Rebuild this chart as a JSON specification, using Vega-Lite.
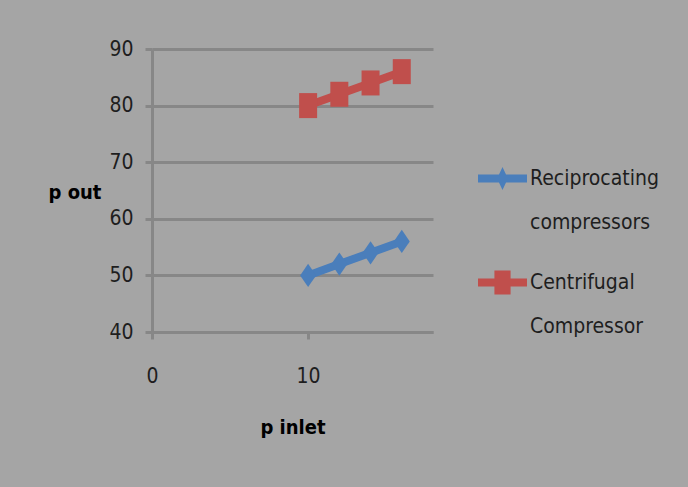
{
  "$schema": "https://vega.github.io/schema/vega-lite/v6.json",
  "width": 281,
  "height": 283,
  "autosize": "none",
  "padding": {"left": 152, "top": 49, "right": 255, "bottom": 155},
  "background": "#a5a5a5",
  "config": {
    "view": {"stroke": null},
    "font": "DejaVu Sans Condensed",
    "axis": {
      "labelFont": "DejaVu Sans Condensed",
      "labelFontSize": 21,
      "labelColor": "#1e1e1e",
      "titleFont": "DejaVu Sans Condensed",
      "titleFontSize": 20,
      "titleFontWeight": "bold",
      "titleColor": "#000000",
      "domainColor": "#878787",
      "domainWidth": 3,
      "tickColor": "#878787",
      "tickWidth": 3,
      "tickSize": 7,
      "gridColor": "#878787",
      "gridWidth": 3
    }
  },
  "data": {
    "values": [
      {"series": "Reciprocating compressors", "p_inlet": 10, "p_out": 50},
      {"series": "Reciprocating compressors", "p_inlet": 12, "p_out": 52},
      {"series": "Reciprocating compressors", "p_inlet": 14, "p_out": 54},
      {"series": "Reciprocating compressors", "p_inlet": 16, "p_out": 56},
      {"series": "Centrifugal Compressor", "p_inlet": 10, "p_out": 80},
      {"series": "Centrifugal Compressor", "p_inlet": 12, "p_out": 82},
      {"series": "Centrifugal Compressor", "p_inlet": 14, "p_out": 84},
      {"series": "Centrifugal Compressor", "p_inlet": 16, "p_out": 86}
    ]
  },
  "encoding": {
    "x": {
      "field": "p_inlet",
      "type": "quantitative",
      "scale": {"domain": [0, 18], "nice": false, "zero": false},
      "axis": {
        "values": [0, 10],
        "grid": false,
        "title": "p inlet",
        "labelFlush": false,
        "labelPadding": 26,
        "titlePadding": 31
      }
    },
    "y": {
      "field": "p_out",
      "type": "quantitative",
      "scale": {"domain": [40, 90], "nice": false, "zero": false},
      "axis": {
        "values": [40, 50, 60, 70, 80, 90],
        "grid": true,
        "title": "p out",
        "labelPadding": 12,
        "titleAngle": 0,
        "titleAlign": "left",
        "titleBaseline": "middle",
        "titleX": -104,
        "titleY": 143
      }
    },
    "color": {
      "field": "series",
      "type": "nominal",
      "scale": {
        "domain": ["Reciprocating compressors", "Centrifugal Compressor"],
        "range": ["#4a7ebb", "#c04f4c"]
      },
      "legend": {
        "title": null,
        "orient": "none",
        "legendX": 326,
        "legendY": 105,
        "padding": 0,
        "symbolSize": 2401,
        "labelOffset": 3,
        "labelFont": "DejaVu Sans Condensed",
        "labelFontSize": 21,
        "labelColor": "#1e1e1e",
        "labelLimit": 300,
        "rowPadding": 25,
        "labelExpr": "split(datum.label, ' ')",
        "encode": {
          "symbols": {
            "update": {
              "shape": {"signal": "datum.value === 'Reciprocating compressors' ? 'M-1,-0.16H1V0.16H-1Z M0,-0.47L0.22,0L0,0.47L-0.22,0Z' : 'M-1,-0.16H1V0.16H-1Z M-0.33,-0.49H0.33V0.49H-0.33Z'"},
              "fill": {"scale": "color", "field": "value"},
              "stroke": {"value": "transparent"},
              "strokeWidth": {"value": 0},
              "opacity": {"value": 1}
            }
          },
          "labels": {
            "update": {
              "baseline": {"value": "middle"},
              "lineHeight": {"value": 44}
            }
          }
        }
      }
    }
  },
  "layer": [
    {
      "mark": {"type": "line", "strokeWidth": 8, "strokeCap": "round"}
    },
    {
      "transform": [{"filter": "datum.series === 'Reciprocating compressors'"}],
      "mark": {"type": "point", "filled": true, "opacity": 1, "size": 625, "strokeWidth": 0, "shape": "M0,-0.93L0.64,0L0,0.93L-0.64,0Z"}
    },
    {
      "transform": [{"filter": "datum.series === 'Centrifugal Compressor'"}],
      "mark": {"type": "point", "filled": true, "opacity": 1, "size": 625, "strokeWidth": 0, "shape": "M-0.72,-1H0.72V1H-0.72Z"}
    }
  ]
}
